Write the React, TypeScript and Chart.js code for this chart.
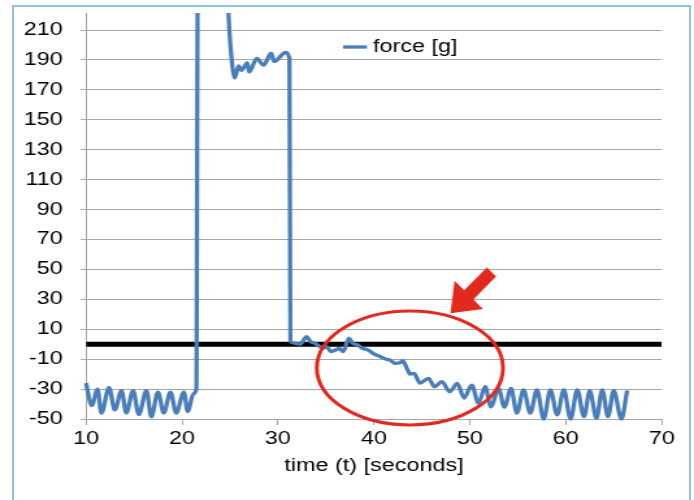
import React, { useEffect, useRef } from 'react';
import { Chart, registerables } from 'chart.js';

Chart.register(...registerables);

// ---- data ----
const timeValues = [
  10, 10.6, 11.2, 11.6, 12.4, 13.0, 13.7, 14.2, 14.9, 15.5,
  16.3, 16.8, 17.5, 18.1, 18.8, 19.4, 20.2, 20.6, 21.2, 21.5,
  21.65, 24.75, 24.85, 25.1, 25.5, 25.9, 26.2, 26.8, 27.0, 27.8,
  28.5, 29.3, 29.6, 30.8, 31.2, 31.3, 31.8, 32.3, 33.0, 33.4,
  33.7, 34.1, 34.7, 35.1, 35.5, 36.0, 36.4, 36.8, 37.4, 37.8,
  38.3, 38.8, 39.4, 39.9, 40.7, 41.3, 41.7, 42.2, 42.7, 43.0,
  43.5, 43.8, 44.2, 44.8, 45.7, 46.3, 47.1, 47.9, 48.7, 49.4,
  50.2, 50.9, 51.6, 52.2, 53.0, 53.6, 54.3, 54.9, 55.6, 56.3,
  57.0, 57.7, 58.4, 59.1, 59.8, 60.5, 61.2, 61.9, 62.5, 63.2,
  63.8, 64.4, 65.0, 65.8, 66.4,
];
const forceValues = [
  -26, -41, -30, -46, -29, -44, -31, -46, -31, -47,
  -31, -48.5, -32, -46, -32, -46, -32, -45, -33, -30,
  240, 240, 221, 196, 178, 186, 183, 188, 182, 191,
  186.5, 194.5, 189, 195, 191, 2, 0.6, 0, 5, 1.7,
  1, -0.5, -2.7, -1.7, -5, -3.9, -2.8, -5, 4, 0.6,
  -0.5, -2.7, -3.9, -6.1, -8.4, -10.1, -10.6, -12.8, -12.4, -11,
  -17, -20, -19.5, -26, -22.8, -28.4, -25, -31.8, -26.2, -36,
  -27.3, -39.5, -28.4, -41.8, -29.5, -42, -29.5, -46, -30.5, -46,
  -30.5, -50, -30.5, -47.3, -30.5, -50, -30.5, -48.4, -31, -49.5,
  -30.5, -48.4, -31, -50, -31,
];
const zeroLineX = [10, 70];
const zeroLineY = [0, 0];
const xTickValues = [10, 20, 30, 40, 50, 60, 70];
const yTickValues = [-50, -30, -10, 10, 30, 50, 70, 90, 110, 130, 150, 170, 190, 210];
const seriesLabel = 'force [g]';
const xTitle = 'time (t) [seconds]';
// annotation (data units)
const ellipseCenter = [43.76, -15.9];
const ellipseRadius = [9.7, 38.1];
const arrowTip = [47.98, 20.65];
const arrowTail = [52.26, 48.26];

const CANVAS_W = 534;
const CANVAS_H = 500;
const STRETCH = 694 / CANVAS_W;
const FONT = "'Liberation Sans', Arial, Helvetica, sans-serif";

export default function App() {
  const ref = useRef<HTMLCanvasElement | null>(null);

  useEffect(() => {
    if (!ref.current) return;

    const overlay = {
      id: 'overlay',
      afterDatasetsDraw(chart: any) {
        const ctx = chart.ctx;
        const xs = chart.scales.x;
        const ys = chart.scales.y;
        const area = chart.chartArea;
        ctx.save();
        // legend
        const lx0 = area.left + (343 - 86) / STRETCH;
        const lx1 = area.left + (367 - 86) / STRETCH;
        const ly = 47;
        ctx.strokeStyle = '#4a7ebb';
        ctx.lineWidth = 3.3;
        ctx.beginPath();
        ctx.moveTo(lx0, ly);
        ctx.lineTo(lx1, ly);
        ctx.stroke();
        ctx.fillStyle = '#000';
        ctx.font = `18px ${FONT}`;
        ctx.textBaseline = 'middle';
        ctx.textAlign = 'left';
        ctx.fillText(chart.data.datasets[0].label, lx1 + 6 / STRETCH, ly);

        // ellipse
        const cx = xs.getPixelForValue(ellipseCenter[0]);
        const cy = ys.getPixelForValue(ellipseCenter[1]);
        const rx = Math.abs(xs.getPixelForValue(ellipseCenter[0] + ellipseRadius[0]) - cx);
        const ry = Math.abs(ys.getPixelForValue(ellipseCenter[1] + ellipseRadius[1]) - cy);
        ctx.strokeStyle = '#e3281e';
        ctx.lineWidth = 3;
        ctx.beginPath();
        ctx.ellipse(cx, cy, rx, ry, 0, 0, Math.PI * 2);
        ctx.stroke();

        // arrow (geometry computed in display space)
        const tx = xs.getPixelForValue(arrowTip[0]) * STRETCH;
        const ty = ys.getPixelForValue(arrowTip[1]);
        const ex = xs.getPixelForValue(arrowTail[0]) * STRETCH;
        const ey = ys.getPixelForValue(arrowTail[1]);
        const dx = ex - tx, dy = ey - ty;
        const len = Math.hypot(dx, dy);
        const ux = dx / len, uy = dy / len;
        const nx = -uy, ny = ux;
        const headLen = 26, headHalf = 20, shaftHalf = 6.5;
        const bx = tx + ux * headLen, by = ty + uy * headLen;
        const pts = [
          [tx, ty],
          [bx + nx * headHalf, by + ny * headHalf],
          [bx + nx * shaftHalf, by + ny * shaftHalf],
          [ex + nx * shaftHalf, ey + ny * shaftHalf],
          [ex - nx * shaftHalf, ey - ny * shaftHalf],
          [bx - nx * shaftHalf, by - ny * shaftHalf],
          [bx - nx * headHalf, by - ny * headHalf],
        ];
        ctx.fillStyle = '#e3281e';
        ctx.beginPath();
        pts.forEach((p, i) => {
          const px = p[0] / STRETCH;
          if (i === 0) ctx.moveTo(px, p[1]);
          else ctx.lineTo(px, p[1]);
        });
        ctx.closePath();
        ctx.fill();
        ctx.restore();
      },
    };

    const grey = '#a6a6a6';
    const chart = new Chart(ref.current, {
      type: 'line',
      data: {
        datasets: [
          {
            label: seriesLabel,
            data: timeValues.map((t, i) => ({ x: t, y: forceValues[i] })),
            borderColor: '#4a7ebb',
            backgroundColor: '#4a7ebb',
            borderWidth: 3.3,
            pointRadius: 0,
            cubicInterpolationMode: 'monotone',
            clip: { left: 5, top: 0, right: 5, bottom: 3 },
            order: 0,
          } as any,
          {
            label: 'zero',
            data: zeroLineX.map((t, i) => ({ x: t, y: zeroLineY[i] })),
            borderColor: '#000',
            borderWidth: 5,
            pointRadius: 0,
            clip: 0,
            order: 1,
          } as any,
        ],
      },
      options: {
        responsive: false,
        animation: false,
        events: [],
        layout: { padding: { top: 13, right: CANVAS_W - 661.7 / STRETCH, bottom: 23, left: 0 } },
        plugins: {
          legend: { display: false },
          tooltip: { enabled: false },
        },
        scales: {
          x: {
            type: 'linear',
            min: 10,
            max: 70,
            afterBuildTicks: (s: any) => {
              s.ticks = xTickValues.map((v) => ({ value: v }));
            },
            afterFit: (s: any) => {
              s.height = 58;
              s.paddingLeft = 0;
              s.paddingRight = 0;
            },
            grid: {
              drawOnChartArea: false,
              drawTicks: true,
              tickLength: 6,
              color: grey,
              lineWidth: 1,
            },
            border: { display: true, color: grey, width: 1 },
            ticks: {
              padding: 3,
              color: '#000',
              font: { size: 18, family: FONT },
              maxRotation: 0,
              callback: (v: any) => String(v),
            },
            title: {
              display: true,
              text: xTitle,
              color: '#000',
              font: { size: 18, family: FONT },
              padding: { top: 0, bottom: 0 },
            },
          },
          y: {
            type: 'linear',
            min: -50,
            max: 221.4,
            afterBuildTicks: (s: any) => {
              s.ticks = yTickValues.map((v) => ({ value: v }));
            },
            afterFit: (s: any) => {
              s.width = 86 / STRETCH;
              s.paddingTop = 0;
              s.paddingBottom = 0;
            },
            grid: {
              drawTicks: true,
              tickLength: 4,
              color: grey,
              lineWidth: 1,
            },
            border: { display: true, color: grey, width: 1 },
            ticks: {
              padding: 14,
              color: '#000',
              font: { size: 18, family: FONT },
              callback: (v: any) => String(v),
            },
          },
        },
      } as any,
      plugins: [overlay],
    });

    return () => chart.destroy();
  }, []);

  return (
    <div
      style={{
        position: 'fixed',
        left: 0,
        top: 0,
        width: 694,
        height: 500,
        overflow: 'hidden',
        background: '#fff',
      }}
    >
      <div
        style={{
          position: 'absolute',
          left: 0,
          top: 0,
          width: CANVAS_W,
          height: CANVAS_H,
          transform: `scaleX(${STRETCH})`,
          transformOrigin: '0 0',
        }}
      >
        <canvas ref={ref} width={CANVAS_W} height={CANVAS_H} style={{ display: 'block' }} />
      </div>
      <div
        style={{
          position: 'absolute',
          left: 12,
          top: 5,
          width: 679,
          height: 600,
          boxSizing: 'border-box',
          border: '2px solid #8dc2e3',
          pointerEvents: 'none',
        }}
      />
    </div>
  );
}
